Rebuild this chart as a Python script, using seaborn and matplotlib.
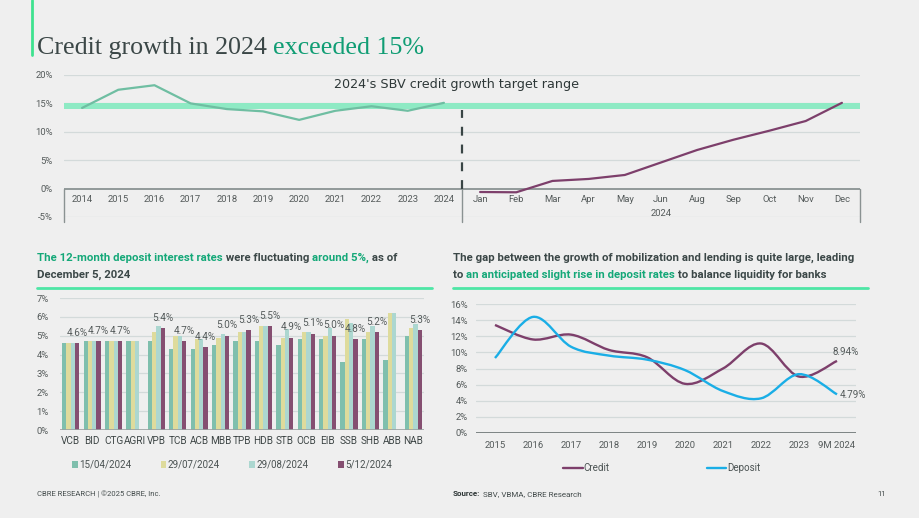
import numpy as np
import pandas as pd
import seaborn as sns
import matplotlib.pyplot as plt
from matplotlib.path import Path
from matplotlib.patches import PathPatch
from matplotlib.lines import Line2D

# top chart: credit growth
years = ['2014', '2015', '2016', '2017', '2018', '2019', '2020', '2021', '2022', '2023', '2024']
annual_growth = [14.2, 17.4, 18.2, 15.0, 14.0, 13.6, 12.1, 13.7, 14.5, 13.7, 15.1]
months = ['Jan', 'Feb', 'Mar', 'Apr', 'May', 'Jun', 'Aug', 'Sep', 'Oct', 'Nov', 'Dec']
monthly_growth = [-0.6, -0.65, 1.35, 1.7, 2.4, 4.6, 6.8, 8.6, 10.2, 11.9, 15.1]
target_low, target_high = 14, 15

# bottom left: 12-month deposit rates
banks = ['VCB', 'BID', 'CTG', 'AGRI', 'VPB', 'TCB', 'ACB', 'MBB', 'TPB', 'HDB',
         'STB', 'OCB', 'EIB', 'SSB', 'SHB', 'ABB', 'NAB']
dates = ['15/04/2024', '29/07/2024', '29/08/2024', '5/12/2024']
rate_apr = [4.6, 4.7, 4.7, 4.7, 4.7, 4.3, 4.3, 4.5, 4.7, 4.7, 4.5, 4.8, 4.8, 3.6, 4.8, 3.7, 5.0]
rate_jul = [4.6, 4.7, 4.7, 4.7, 5.2, 5.0, 4.8, 4.9, 5.2, 5.5, 4.9, 5.2, 5.0, 5.9, 5.2, 6.2, 5.4]
rate_aug = [4.6, 4.7, 4.7, 4.7, 5.5, 5.0, 4.85, 5.1, 5.2, 5.5, 5.35, 5.2, 5.4, 5.65, 5.5, 6.2, 5.6]
rate_dec = [4.6, 4.7, 4.7, np.nan, 5.4, 4.7, 4.4, 5.0, 5.3, 5.5, 4.9, 5.1, 5.0, 4.8, 5.2, np.nan, 5.3]

# bottom right: credit vs deposit growth
gap_years = ['2015', '2016', '2017', '2018', '2019', '2020', '2021', '2022', '2023', '9M 2024']
credit_growth = [13.4, 11.6, 12.2, 10.3, 9.4, 6.1, 8.0, 11.1, 7.0, 8.94]
deposit_growth = [9.3, 14.4, 10.7, 9.6, 9.1, 7.8, 5.2, 4.3, 7.3, 4.79]

W, H = 920, 518
DARK = '#3b4747'
GREEN_TXT = '#14a878'
RULE = '#4ee6a6'
TICK = '#555b5b'
GRID = '#d3dada'
PLUM = '#7d3f6b'

sns.set_theme(style='white')
plt.rcParams['font.family'] = ['Roboto', 'DejaVu Sans']

fig = plt.figure(figsize=(W / 100, H / 100), dpi=100, facecolor='#efefef')


def box(left, top, right, bottom):
    return [left / W, 1 - bottom / H, (right - left) / W, (bottom - top) / H]


def rich_line(x_px, y_px, parts, **kw):
    # parts: (text, colour) or (text, colour, weight)
    renderer = fig.canvas.get_renderer()
    x = x_px
    for part in parts:
        txt, color = part[0], part[1]
        opts = dict(kw)
        if len(part) > 2:
            opts['fontweight'] = part[2]
        fig.text(x / W, 1 - y_px / H, txt, color=color, ha='left', va='baseline', **opts)
        a = fig.text(0, 0, txt + 'x', **opts)
        b = fig.text(0, 0, 'x', **opts)
        x += a.get_window_extent(renderer).width - b.get_window_extent(renderer).width
        a.remove()
        b.remove()


def smooth_path(x, y):
    pts = np.column_stack([x, y]).astype(float)
    n = len(pts)
    verts = [pts[0]]
    codes = [Path.MOVETO]
    for i in range(n - 1):
        p0, p1 = pts[max(i - 1, 0)], pts[i]
        p2, p3 = pts[i + 1], pts[min(i + 2, n - 1)]
        verts += [p1 + (p2 - p0) / 6, p2 - (p3 - p1) / 6, p2]
        codes += [Path.CURVE4] * 3
    return Path(verts, codes)


# title
fig.add_artist(Line2D([32 / W, 32 / W], [1, 1 - 55 / H], color='#3ee28f', lw=2))
rich_line(37, 54, [('Credit growth in 2024 ', DARK), ('exceeded 15%', '#109d74')],
          fontsize=18.7, family='Liberation Serif')

# ---------- top chart ----------
ax1 = fig.add_axes(box(64, 75, 860, 217))
ax1.set_facecolor('none')
cats = years + months
ax1.axhspan(target_low, target_high, color='#8eeac4', lw=0, zorder=1)
for g in [5, 10, 15, 20, -5]:
    ax1.axhline(g, color=GRID, lw=0.9, zorder=0)
ax1.axhline(0, color='#8a9292', lw=1.3, zorder=2)
for xv in [-0.5, 10.5, 21.5]:
    ax1.plot([xv, xv], [0, -5.9], color='#8a9292', lw=1, clip_on=False, zorder=2)
ax1.plot([10.5, 10.5], [0, 13.8], color='#394545', lw=1.6, dashes=(4, 4), zorder=3)
sns.lineplot(x=np.arange(len(years)), y=annual_growth, ax=ax1, color='#6fbea2', lw=1.6, zorder=4)
sns.lineplot(x=np.arange(len(years), len(cats)), y=monthly_growth, ax=ax1, color=PLUM, lw=1.6, zorder=4)
for i, c in enumerate(cats):
    ax1.text(i, -1.95, c, ha='center', va='center', fontsize=6.8, color=TICK)
ax1.text(16, -4.35, '2024', ha='center', va='center', fontsize=6.8, color=TICK)
ax1.text(10.35, 18.3, "2024's SBV credit growth target range", ha='center', va='center',
         fontsize=9.2, color='#2e3838', family='DejaVu Sans')
ax1.set_xlim(-0.5, 21.5)
ax1.set_ylim(-5, 20)
ax1.set_xticks([])
ax1.set_yticks([-5, 0, 5, 10, 15, 20])
ax1.set_yticklabels([f'{v}%' for v in [-5, 0, 5, 10, 15, 20]])
ax1.tick_params(axis='y', length=0, pad=8, labelsize=6.8, labelcolor=TICK)
sns.despine(ax=ax1, left=True, bottom=True)
ax1.set_xlabel('')
ax1.set_ylabel('')

# ---------- bottom left: bars ----------
hdr_kw = dict(fontsize=8.2, fontweight='bold')
rich_line(37, 261, [('The 12-month deposit interest rates', GREEN_TXT), (' were fluctuating ', DARK),
                    ('around 5%,', GREEN_TXT), (' as of', DARK)], **hdr_kw)
rich_line(37, 278, [('December 5, 2024', DARK)], **hdr_kw)
fig.add_artist(Line2D([37 / W, 432 / W], [1 - 288 / H] * 2, color=RULE, lw=2))

rates = pd.DataFrame({
    'bank': banks * 4,
    'date': np.repeat(dates, len(banks)),
    'rate': rate_apr + rate_jul + rate_aug + rate_dec,
})
bar_colors = ['#7fbfad', '#dedb9c', '#acd7d0', '#854f71']
ax2 = fig.add_axes(box(60, 298, 424, 430))
ax2.set_facecolor('none')
for g in range(1, 8):
    ax2.axhline(g, color=GRID, lw=0.9, zorder=0)
sns.barplot(data=rates, x='bank', y='rate', hue='date', hue_order=dates, order=banks,
            palette=bar_colors, width=0.8, saturation=1, linewidth=0, ax=ax2, zorder=3, legend=True)
ax2.axhline(0, color='#9aa2a2', lw=1.2, zorder=4)
for i, v in enumerate(rate_dec):
    if not np.isnan(v):
        ax2.text(i + 0.3, v + 0.55, f'{v:.1f}%', ha='center', va='center', fontsize=7.2, color=TICK)
ax2.set_xlim(-0.5, 16.5)
ax2.set_ylim(0, 7)
ax2.set_yticks(range(8))
ax2.set_yticklabels([f'{v}%' for v in range(8)])
ax2.tick_params(axis='y', length=0, pad=8, labelsize=6.8, labelcolor=TICK)
ax2.tick_params(axis='x', length=0, pad=4, labelsize=7.2, labelcolor='#3e4646')
ax2.set_xlabel('')
ax2.set_ylabel('')
sns.despine(ax=ax2, left=True, bottom=True)
handles, labels = ax2.get_legend_handles_labels()
ax2.legend(handles, labels, ncol=4, frameon=False, loc='center', bbox_to_anchor=(232 / W, 1 - 465 / H),
           bbox_transform=fig.transFigure, fontsize=7, handlelength=0.6, handleheight=0.6,
           handletextpad=0.15, columnspacing=3.0, labelcolor='#4a5252')

# ---------- bottom right: lines ----------
rich_line(453, 261, [('The gap between the growth of mobilization and lending is quite large, leading', DARK)], **hdr_kw)
rich_line(453, 278, [('to ', DARK), ('an anticipated slight rise in deposit rates', GREEN_TXT),
                     (' to balance liquidity for banks', DARK)], **hdr_kw)
fig.add_artist(Line2D([453 / W, 868 / W], [1 - 288 / H] * 2, color=RULE, lw=2))

ax3 = fig.add_axes(box(476, 304, 856, 433))
ax3.set_facecolor('none')
for g in range(2, 17, 2):
    ax3.axhline(g, color=GRID, lw=0.9, zorder=0)
ax3.axhline(0, color='#7c8484', lw=1.4, zorder=2)
xs = np.arange(len(gap_years))
ax3.add_patch(PathPatch(smooth_path(xs, credit_growth), fc='none', ec=PLUM, lw=1.7, zorder=4))
ax3.add_patch(PathPatch(smooth_path(xs, deposit_growth), fc='none', ec='#1aaee6', lw=1.7, zorder=4))
ax3.text(9.22, 10.06, f'{credit_growth[-1]:.2f}%', ha='center', va='center', fontsize=7, color=TICK)
ax3.text(9.43, 4.66, f'{deposit_growth[-1]:.2f}%', ha='center', va='center', fontsize=7, color=TICK)
ax3.set_xlim(-0.5, 9.5)
ax3.set_ylim(0, 16)
ax3.set_xticks(xs)
ax3.set_xticklabels(gap_years)
ax3.set_yticks(range(0, 17, 2))
ax3.set_yticklabels([f'{v}%' for v in range(0, 17, 2)])
ax3.tick_params(axis='y', length=0, pad=6, labelsize=6.8, labelcolor=TICK)
ax3.tick_params(axis='x', length=0, pad=6, labelsize=6.8, labelcolor=TICK)
sns.despine(ax=ax3, left=True, bottom=True)
leg_handles = [Line2D([], [], color=PLUM, lw=1.7), Line2D([], [], color='#1aaee6', lw=1.7)]
ax3.legend(leg_handles, ['Credit', 'Deposit'], ncol=2, frameon=False, loc='center',
           bbox_to_anchor=(662 / W, 1 - 468 / H), bbox_transform=fig.transFigure, fontsize=7,
           handlelength=2.0, handletextpad=0.1, columnspacing=10, labelcolor='#4a5252')

# footer
fig.text(37 / W, 1 - 496 / H, 'CBRE RESEARCH | ©2025 CBRE, Inc.', fontsize=5.5, color='#444c4c', va='baseline')
src = fig.text(453 / W, 1 - 496 / H, 'Source:', fontsize=5.8, fontweight='bold', color='#2e3636', va='baseline')
src_end = src.get_window_extent(fig.canvas.get_renderer()).x1
fig.text((src_end + 3) / W, 1 - 496 / H, 'SBV, VBMA, CBRE Research', fontsize=5.8, color='#444c4c', va='baseline')
fig.text(877 / W, 1 - 496 / H, '11', fontsize=5.5, color='#444c4c', va='baseline')

fig.savefig('out.png', dpi=100, facecolor=fig.get_facecolor())
